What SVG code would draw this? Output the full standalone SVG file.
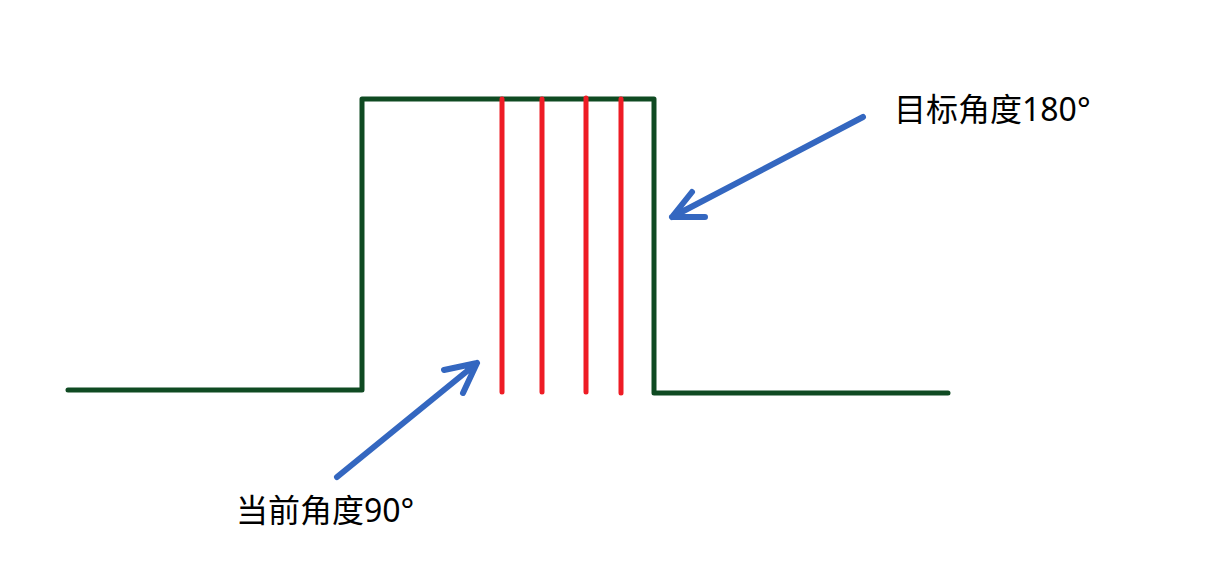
<svg xmlns="http://www.w3.org/2000/svg" width="1230" height="562" viewBox="0 0 1230 562">
<style>
.pulse{fill:none;stroke:#0f4a22;stroke-width:5;stroke-linecap:round;stroke-linejoin:round}
.red{stroke:#ee1c25;stroke-width:5;stroke-linecap:round}
.arrow{fill:none;stroke:#3467c0;stroke-width:6;stroke-linecap:round;stroke-linejoin:round}
.lbl{font-family:"Noto Sans","Noto Sans CJK SC",sans-serif;font-size:32px;fill:#000}
</style>
<rect width="1230" height="562" fill="#fff"/>
<g id="pulse">
<polyline class="pulse" points="68,390 362,390 362,99 654,99 654,393 948,393"/>
</g>
<g id="marks">
<line class="red" x1="502" y1="99" x2="502" y2="392"/>
<line class="red" x1="542" y1="99" x2="542" y2="392"/>
<line class="red" x1="586" y1="98" x2="586" y2="392"/>
<line class="red" x1="621" y1="99" x2="621" y2="393"/>
</g>
<g id="connectors">
<path class="arrow" d="M863,117 L672,217 M692,192 L672,217 L705,217"/>
<path class="arrow" d="M337,477 L477,363 M444,370 L477,363 L463,393"/>
</g>
<g id="label-target">
<text class="lbl" x="894" y="121">目标角度180°</text>
</g>
<g id="label-current">
<text class="lbl" x="236" y="522">当前角度90°</text>
</g>
</svg>
